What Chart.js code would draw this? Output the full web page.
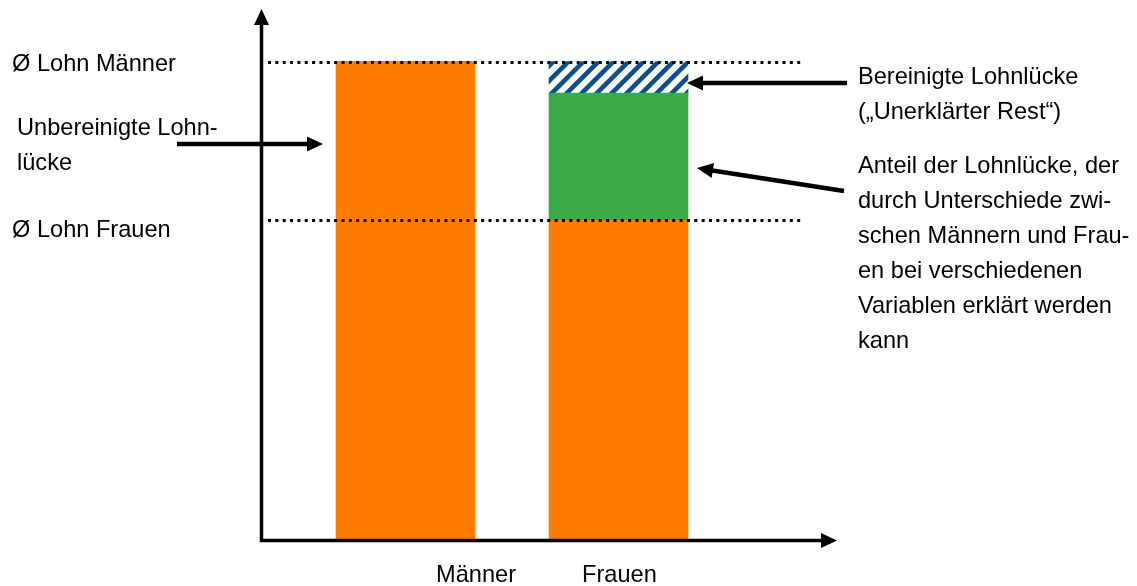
<!DOCTYPE html>
<html><head><meta charset="utf-8">
<script src="https://cdn.jsdelivr.net/npm/chart.js@4.4.1/dist/chart.umd.min.js"></script>
<style>html,body{margin:0;padding:0;background:#fff;overflow:hidden}#wrap{width:1137px;height:586px;position:relative}</style>
</head><body><div id="wrap"><canvas id="c" width="1137" height="586"></canvas></div>
<script>
// ---- data ----
const categories = ['Männer', 'Frauen'];
const lohnBasis = [100, 66.8];     // orange: Lohn (Männer) bzw. Ø Lohn Frauen
const erklaert = [0, 26.6];        // green: erklärter Teil der Lohnlücke
const unerklaert = [0, 6.6];       // hatched: unerklärter Rest
const avgLabels = ['Ø Lohn Männer', 'Ø Lohn Frauen'];
const avgValues = [100, 66.8];
const noteLeft = ['Unbereinigte Lohn-', 'lücke'];
const noteRest = ['Bereinigte Lohnlücke', '(„Unerklärter Rest“)'];
const noteErklaert = ['Anteil der Lohnlücke, der', 'durch Unterschiede zwi-', 'schen Männern und Frau-', 'en bei verschiedenen', 'Variablen erklärt werden', 'kann'];

// ---- styles ----
const FONT = '23.6px "Liberation Sans", Arial, sans-serif';
const ORANGE = '#FF7C00', GREEN = '#3DAA48', BLUE = '#0B508C';

function hatch() {
  const s = 15, c = document.createElement('canvas');
  c.width = s; c.height = s;
  const g = c.getContext('2d');
  g.fillStyle = '#fff'; g.fillRect(0, 0, s, s);
  g.strokeStyle = BLUE; g.lineWidth = 4.6; g.lineCap = 'butt';
  g.beginPath();
  for (const k of [0, 1, 2]) {          // lines x + y = k*s  ("/" stripes)
    g.moveTo(k * s - 2 * s, 2 * s);
    g.lineTo(k * s + 2 * s, -2 * s);
  }
  g.stroke();
  return g.createPattern(c, 'repeat');
}

function arrow(ctx, x1, y1, x2, y2, lw, len, half) {
  const a = Math.atan2(y2 - y1, x2 - x1);
  const bx = x2 - Math.cos(a) * len, by = y2 - Math.sin(a) * len;
  ctx.save();
  ctx.strokeStyle = '#000'; ctx.fillStyle = '#000'; ctx.lineWidth = lw; ctx.lineCap = 'butt';
  ctx.beginPath(); ctx.moveTo(x1, y1); ctx.lineTo(bx + Math.cos(a) * 2, by + Math.sin(a) * 2); ctx.stroke();
  ctx.beginPath();
  ctx.moveTo(x2, y2);
  ctx.lineTo(bx - Math.sin(a) * half, by + Math.cos(a) * half);
  ctx.lineTo(bx + Math.sin(a) * half, by - Math.cos(a) * half);
  ctx.closePath(); ctx.fill();
  ctx.restore();
}

const decor = {
  id: 'decor',
  afterDatasetsDraw(chart) {
    const ctx = chart.ctx, xs = chart.scales.x, ys = chart.scales.y;
    const y0 = ys.getPixelForValue(0);
    const axX = 261.5;
    // axes
    arrow(ctx, axX, y0 + 2, axX, 9, 3.5, 16, 7.5);
    arrow(ctx, axX - 1.5, y0 + 0.5, 837, y0 + 0.5, 3.5, 16, 7.5);
    // dotted average lines
    ctx.save();
    ctx.strokeStyle = '#000'; ctx.lineWidth = 3; ctx.setLineDash([3, 4.35]);
    avgValues.forEach(v => {
      const y = Math.round(ys.getPixelForValue(v)) + 0.5;
      ctx.beginPath(); ctx.moveTo(268, y); ctx.lineTo(803, y); ctx.stroke();
    });
    ctx.restore();
    // texts
    ctx.save();
    ctx.font = FONT; ctx.fillStyle = '#000'; ctx.textBaseline = 'alphabetic'; ctx.textAlign = 'left';
    ctx.fillText(avgLabels[0], 12, 71);
    ctx.fillText(avgLabels[1], 12, 237);
    noteLeft.forEach((t, i) => ctx.fillText(t, 17, 135 + i * 35));
    noteRest.forEach((t, i) => ctx.fillText(t, 858, 84 + i * 35));
    noteErklaert.forEach((t, i) => ctx.fillText(t, 858, 173 + i * 35));
    const labOff = [30.5, -36.5];
    categories.forEach((c, i) => ctx.fillText(c, xs.getPixelForValue(i) + labOff[i], 582));
    ctx.restore();
    // annotation arrows
    arrow(ctx, 177, 144, 323, 144, 4.5, 16, 7.5);
    arrow(ctx, 847, 83, 687, 83, 4.5, 16, 7.5);
    arrow(ctx, 844, 191, 697, 168, 4.5, 16, 7.5);
  }
};

new Chart(document.getElementById('c'), {
  type: 'bar',
  data: {
    labels: categories,
    datasets: [
      { label: 'Lohn', data: lohnBasis, backgroundColor: ORANGE },
      { label: 'Erklärter Anteil', data: erklaert, backgroundColor: GREEN },
      { label: 'Unerklärter Rest', data: unerklaert, backgroundColor: hatch() }
    ]
  },
  options: {
    responsive: false,
    animation: false,
    layout: { padding: { left: 299, right: 412, top: 13.65, bottom: 46 } },
    datasets: { bar: { barThickness: 139, borderWidth: 0 } },
    plugins: { legend: { display: false }, tooltip: { enabled: false } },
    scales: {
      x: { display: false, stacked: true },
      y: { display: false, stacked: true, min: 0, max: 110 }
    }
  },
  plugins: [decor]
});
</script>
</body></html>
